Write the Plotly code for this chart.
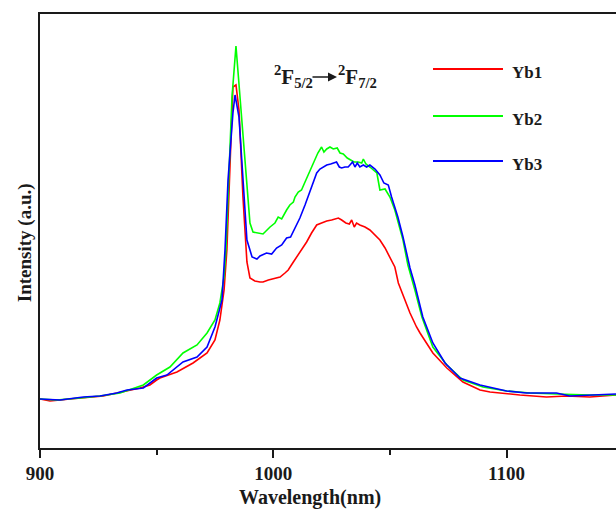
import plotly.graph_objects as go

# Emission spectra of the three Yb-doped samples (2F5/2 -> 2F7/2), intensity in a.u.
series_names = ["Yb1", "Yb2", "Yb3"]
series_colors = ["#ff0000", "#00ff00", "#0000ff"]

yb1_wavelength = [900.0, 904.3, 912.9, 927.1, 942.9, 947.1, 950.0, 951.4, 958.7, 965.6,
                  971.6, 975.0, 977.1, 978.9, 980.1, 981.0, 982.7, 984.0, 985.3, 987.0,
                  988.7, 990.0, 992.1, 994.3, 995.6, 997.9, 1000.7, 1002.9, 1005.0, 1006.4,
                  1008.6, 1010.7, 1012.9, 1014.3, 1016.4, 1018.6, 1020.7, 1022.9, 1025.0, 1027.9,
                  1029.3, 1031.1, 1032.6, 1033.6, 1034.7, 1035.7, 1037.1, 1039.3, 1041.4, 1043.6,
                  1045.7, 1047.9, 1050.0, 1052.1, 1053.6, 1058.6, 1061.4, 1062.9, 1068.4, 1074.4,
                  1081.3, 1088.6, 1092.9, 1097.1, 1105.7, 1117.1, 1125.7, 1135.7, 1142.9, 1146.9]
yb1_intensity = [49, 47, 49, 52, 60, 63, 68, 70, 76, 85,
                 95, 108, 128, 158, 198, 251, 361, 363, 338, 251,
                 186, 170, 167, 166, 166, 168, 170, 171, 175, 178,
                 186, 193, 201, 206, 215, 223, 225, 227, 228, 230,
                 228, 225, 224, 228, 221, 225, 223, 221, 218, 213,
                 208, 200, 191, 181, 165, 135, 121, 115, 95, 80,
                 66, 58, 56, 55, 53, 51, 52, 51, 52, 53]

yb2_wavelength = [900.0, 907.1, 917.1, 925.7, 934.3, 944.3, 950.0, 955.7, 961.3, 967.3,
                  971.6, 975.0, 977.1, 978.9, 979.7, 980.6, 982.3, 984.0, 985.7, 987.9,
                  990.0, 991.3, 993.4, 995.6, 998.6, 1000.7, 1002.1, 1003.6, 1005.7, 1007.1,
                  1008.6, 1009.3, 1010.7, 1012.1, 1013.6, 1015.0, 1016.4, 1017.9, 1019.1, 1020.7,
                  1021.7, 1022.9, 1024.3, 1025.7, 1027.4, 1028.6, 1030.0, 1031.7, 1033.2, 1034.6,
                  1036.4, 1037.9, 1038.6, 1039.7, 1041.4, 1044.4, 1045.7, 1047.9, 1050.0, 1052.1,
                  1055.6, 1057.7, 1060.7, 1063.7, 1068.4, 1074.4, 1081.3, 1089.9, 1100.0, 1110.0,
                  1121.4, 1135.7, 1146.9]
yb2_intensity = [49, 48, 50, 52, 55, 63, 73, 81, 95, 103,
                 115, 128, 145, 171, 198, 251, 351, 402, 351, 285,
                 225, 216, 215, 214, 221, 225, 231, 229, 238, 243,
                 246, 251, 256, 258, 266, 273, 281, 289, 295, 301,
                 296, 299, 301, 299, 300, 295, 294, 290, 288, 286,
                 286, 285, 289, 284, 281, 275, 258, 259, 251, 238,
                 208, 183, 158, 131, 101, 83, 68, 61, 57, 55,
                 54, 53, 53]

yb3_wavelength = [900.0, 908.6, 918.6, 925.7, 932.9, 937.3, 944.3, 950.0, 954.4, 961.3,
                  967.3, 971.6, 975.0, 977.1, 978.0, 979.3, 980.6, 982.7, 983.6, 985.3,
                  987.0, 988.7, 990.9, 993.0, 994.3, 997.1, 999.3, 1001.4, 1003.6, 1005.7,
                  1007.4, 1009.3, 1011.4, 1013.6, 1015.7, 1017.1, 1018.6, 1020.0, 1021.4, 1022.9,
                  1024.6, 1026.0, 1027.1, 1028.3, 1029.3, 1030.7, 1032.1, 1034.0, 1035.0, 1036.0,
                  1037.1, 1038.6, 1040.0, 1041.4, 1043.6, 1045.7, 1047.4, 1049.3, 1050.7, 1053.4,
                  1055.6, 1058.6, 1060.7, 1064.1, 1068.4, 1073.6, 1080.0, 1088.6, 1100.0, 1108.6,
                  1121.4, 1127.1, 1135.7, 1146.9]
yb3_intensity = [49, 48, 51, 52, 55, 58, 60, 70, 73, 86,
                 91, 101, 121, 141, 148, 198, 268, 335, 353, 331,
                 268, 208, 191, 189, 192, 195, 194, 200, 203, 210,
                 211, 220, 230, 243, 256, 265, 275, 279, 281, 283,
                 284, 285, 286, 281, 280, 281, 281, 286, 281, 285,
                 281, 283, 281, 283, 279, 273, 265, 263, 251, 231,
                 211, 180, 163, 131, 105, 85, 70, 63, 57, 55,
                 55, 52, 53, 54]

x_ticks = [900, 1000, 1100]
x_minor_ticks = [950, 1050]
x_range = [900, 1146.9]
y_range = [0, 434]

wavelengths = [yb1_wavelength, yb2_wavelength, yb3_wavelength]
intensities = [yb1_intensity, yb2_intensity, yb3_intensity]

SERIF = "Liberation Serif"
INK = "#1a1a1a"

fig = go.Figure()
for name, color, wl, inten in zip(series_names, series_colors, wavelengths, intensities):
    fig.add_trace(go.Scatter(x=wl, y=inten, mode="lines", name=name,
                             line=dict(color=color, width=1.6), showlegend=False))

fig.update_layout(
    width=616, height=509,
    margin=dict(l=40, r=0, t=14, b=61),
    paper_bgcolor="white", plot_bgcolor="white",
    font=dict(family=SERIF, color=INK),
)

fig.update_xaxes(
    range=x_range, showgrid=False, zeroline=False,
    showline=True, linecolor=INK, linewidth=2, mirror=True,
    ticks="outside", ticklen=8, tickwidth=1.5, tickcolor=INK,
    tickvals=x_ticks, ticktext=[str(v) for v in x_ticks],
    ticklabelstandoff=-1,
    tickfont=dict(family=SERIF, size=19, color=INK, weight="bold"),
    minor=dict(tickvals=x_minor_ticks, ticks="outside", ticklen=5,
               tickwidth=1.5, tickcolor=INK),
)
fig.update_yaxes(
    range=y_range, showgrid=False, zeroline=False,
    showline=True, linecolor=INK, linewidth=2,
    ticks="", showticklabels=False,
)

# Axis titles
fig.add_annotation(text="Wavelength(nm)", xref="paper", yref="paper",
                   x=0.469, y=-0.1150, xanchor="center", yanchor="middle",
                   showarrow=False, font=dict(family=SERIF, size=20, color=INK, weight="bold"))
fig.add_annotation(text="Intensity (a.u.)", xref="paper", yref="paper",
                   x=-0.0260, y=0.472, xanchor="center", yanchor="middle", textangle=-90,
                   showarrow=False, font=dict(family=SERIF, size=19, color=INK, weight="bold"))

# Transition label with arrow
term_font = dict(family=SERIF, size=21, color=INK, weight="bold")
fig.add_annotation(text="<sup>2</sup>F<sub>5/2</sub>", xref="paper", yref="paper",
                   x=0.403, y=0.857, xanchor="left", yanchor="middle",
                   showarrow=False, font=term_font)
fig.add_annotation(text="<sup>2</sup>F<sub>7/2</sub>", xref="paper", yref="paper",
                   x=0.514, y=0.857, xanchor="left", yanchor="middle",
                   showarrow=False, font=term_font)
fig.add_annotation(text="", xref="paper", yref="paper",
                   x=0.5156, y=0.8548, ax=-26, ay=0,
                   showarrow=True, arrowhead=2, arrowsize=1.2, arrowwidth=1.5,
                   arrowcolor=INK)

# Legend drawn as line samples beside bold labels
legend_y = [0.8733, 0.7650, 0.6613]
for name, color, ly in zip(series_names, series_colors, legend_y):
    fig.add_shape(type="line", xref="paper", yref="paper",
                  x0=0.6823, x1=0.8038, y0=ly, y1=ly,
                  line=dict(color=color, width=2))
    fig.add_annotation(text=name, xref="paper", yref="paper",
                       x=0.816, y=ly - 0.008, xanchor="left", yanchor="middle",
                       showarrow=False,
                       font=dict(family=SERIF, size=17, color=INK, weight="bold"))

fig.write_html("out.html")
